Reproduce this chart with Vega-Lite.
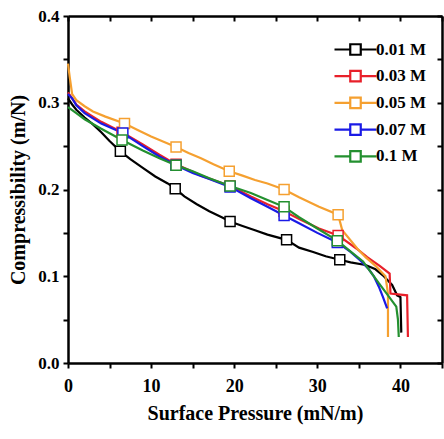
{
  "$schema": "https://vega.github.io/schema/vega-lite/v6.json",
  "autosize": "none",
  "width": 374,
  "height": 347,
  "padding": {"left": 68, "top": 16, "right": 2, "bottom": 76},
  "background": "white",
  "config": {
    "view": {"stroke": null},
    "font": "Liberation Serif",
    "axis": {
      "domainColor": "black", "domainWidth": 2.5,
      "tickColor": "black", "tickWidth": 2, "tickSize": 5,
      "labelFont": "Liberation Serif", "labelFontWeight": "bold", "labelFontSize": 17, "labelColor": "black",
      "titleFont": "Liberation Serif", "titleFontWeight": "bold", "titleFontSize": 20, "titleColor": "black",
      "grid": false
    }
  },
  "datasets": {
    "curves": [
      {"c": "0.01 M", "i": 1, "p": 0, "k": 0.305},
      {"c": "0.01 M", "i": 2, "p": 0.5, "k": 0.298},
      {"c": "0.01 M", "i": 3, "p": 1, "k": 0.292},
      {"c": "0.01 M", "i": 4, "p": 2, "k": 0.283},
      {"c": "0.01 M", "i": 5, "p": 3, "k": 0.275},
      {"c": "0.01 M", "i": 6, "p": 4, "k": 0.266},
      {"c": "0.01 M", "i": 7, "p": 5, "k": 0.256},
      {"c": "0.01 M", "i": 8, "p": 6.3, "k": 0.244},
      {"c": "0.01 M", "i": 9, "p": 7.5, "k": 0.235},
      {"c": "0.01 M", "i": 10, "p": 9, "k": 0.225},
      {"c": "0.01 M", "i": 11, "p": 10.5, "k": 0.215},
      {"c": "0.01 M", "i": 12, "p": 12, "k": 0.207},
      {"c": "0.01 M", "i": 13, "p": 12.9, "k": 0.201},
      {"c": "0.01 M", "i": 14, "p": 14, "k": 0.192},
      {"c": "0.01 M", "i": 15, "p": 15.5, "k": 0.183},
      {"c": "0.01 M", "i": 16, "p": 17, "k": 0.175},
      {"c": "0.01 M", "i": 17, "p": 18.5, "k": 0.168},
      {"c": "0.01 M", "i": 18, "p": 19.5, "k": 0.163},
      {"c": "0.01 M", "i": 19, "p": 21, "k": 0.158},
      {"c": "0.01 M", "i": 20, "p": 22.5, "k": 0.153},
      {"c": "0.01 M", "i": 21, "p": 24, "k": 0.148},
      {"c": "0.01 M", "i": 22, "p": 26.3, "k": 0.142},
      {"c": "0.01 M", "i": 23, "p": 27.8, "k": 0.133},
      {"c": "0.01 M", "i": 24, "p": 29.5, "k": 0.128},
      {"c": "0.01 M", "i": 25, "p": 31, "k": 0.123},
      {"c": "0.01 M", "i": 26, "p": 32.7, "k": 0.119},
      {"c": "0.01 M", "i": 27, "p": 34, "k": 0.116},
      {"c": "0.01 M", "i": 28, "p": 35.8, "k": 0.113},
      {"c": "0.01 M", "i": 29, "p": 37, "k": 0.108},
      {"c": "0.01 M", "i": 30, "p": 38, "k": 0.1},
      {"c": "0.01 M", "i": 31, "p": 39, "k": 0.09},
      {"c": "0.01 M", "i": 32, "p": 39.6, "k": 0.078},
      {"c": "0.01 M", "i": 33, "p": 40, "k": 0.076},
      {"c": "0.01 M", "i": 34, "p": 40.1, "k": 0.035},

      {"c": "0.03 M", "i": 1, "p": 0, "k": 0.312},
      {"c": "0.03 M", "i": 2, "p": 1, "k": 0.298},
      {"c": "0.03 M", "i": 3, "p": 2, "k": 0.29},
      {"c": "0.03 M", "i": 4, "p": 4, "k": 0.278},
      {"c": "0.03 M", "i": 5, "p": 6.5, "k": 0.266},
      {"c": "0.03 M", "i": 6, "p": 9, "k": 0.252},
      {"c": "0.03 M", "i": 7, "p": 11, "k": 0.24},
      {"c": "0.03 M", "i": 8, "p": 13, "k": 0.229},
      {"c": "0.03 M", "i": 9, "p": 16, "k": 0.216},
      {"c": "0.03 M", "i": 10, "p": 19.5, "k": 0.204},
      {"c": "0.03 M", "i": 11, "p": 22, "k": 0.192},
      {"c": "0.03 M", "i": 12, "p": 24, "k": 0.183},
      {"c": "0.03 M", "i": 13, "p": 26, "k": 0.175},
      {"c": "0.03 M", "i": 14, "p": 28, "k": 0.165},
      {"c": "0.03 M", "i": 15, "p": 30.2, "k": 0.155},
      {"c": "0.03 M", "i": 16, "p": 32.5, "k": 0.147},
      {"c": "0.03 M", "i": 17, "p": 34.7, "k": 0.132},
      {"c": "0.03 M", "i": 18, "p": 36, "k": 0.122},
      {"c": "0.03 M", "i": 19, "p": 37.5, "k": 0.112},
      {"c": "0.03 M", "i": 20, "p": 38.7, "k": 0.103},
      {"c": "0.03 M", "i": 21, "p": 38.8, "k": 0.08},
      {"c": "0.03 M", "i": 22, "p": 40.8, "k": 0.078},
      {"c": "0.03 M", "i": 23, "p": 40.9, "k": 0.03},

      {"c": "0.05 M", "i": 1, "p": 0, "k": 0.345},
      {"c": "0.05 M", "i": 2, "p": 0.2, "k": 0.33},
      {"c": "0.05 M", "i": 3, "p": 0.5, "k": 0.31},
      {"c": "0.05 M", "i": 4, "p": 1, "k": 0.303},
      {"c": "0.05 M", "i": 5, "p": 2, "k": 0.296},
      {"c": "0.05 M", "i": 6, "p": 3, "k": 0.29},
      {"c": "0.05 M", "i": 7, "p": 4.5, "k": 0.284},
      {"c": "0.05 M", "i": 8, "p": 6.8, "k": 0.276},
      {"c": "0.05 M", "i": 9, "p": 8.5, "k": 0.268},
      {"c": "0.05 M", "i": 10, "p": 10, "k": 0.261},
      {"c": "0.05 M", "i": 11, "p": 11.5, "k": 0.255},
      {"c": "0.05 M", "i": 12, "p": 13, "k": 0.249},
      {"c": "0.05 M", "i": 13, "p": 14.5, "k": 0.242},
      {"c": "0.05 M", "i": 14, "p": 16, "k": 0.236},
      {"c": "0.05 M", "i": 15, "p": 17.5, "k": 0.229},
      {"c": "0.05 M", "i": 16, "p": 19.4, "k": 0.221},
      {"c": "0.05 M", "i": 17, "p": 21, "k": 0.216},
      {"c": "0.05 M", "i": 18, "p": 22.5, "k": 0.211},
      {"c": "0.05 M", "i": 19, "p": 24, "k": 0.207},
      {"c": "0.05 M", "i": 20, "p": 26, "k": 0.2},
      {"c": "0.05 M", "i": 21, "p": 27.8, "k": 0.191},
      {"c": "0.05 M", "i": 22, "p": 30.2, "k": 0.18},
      {"c": "0.05 M", "i": 23, "p": 32.5, "k": 0.171},
      {"c": "0.05 M", "i": 24, "p": 33, "k": 0.153},
      {"c": "0.05 M", "i": 25, "p": 34.8, "k": 0.132},
      {"c": "0.05 M", "i": 26, "p": 35.8, "k": 0.122},
      {"c": "0.05 M", "i": 27, "p": 37, "k": 0.112},
      {"c": "0.05 M", "i": 28, "p": 38.2, "k": 0.1},
      {"c": "0.05 M", "i": 29, "p": 38.5, "k": 0.08},
      {"c": "0.05 M", "i": 30, "p": 38.5, "k": 0.03},

      {"c": "0.07 M", "i": 1, "p": 0, "k": 0.31},
      {"c": "0.07 M", "i": 2, "p": 0.5, "k": 0.305},
      {"c": "0.07 M", "i": 3, "p": 1, "k": 0.297},
      {"c": "0.07 M", "i": 4, "p": 2, "k": 0.288},
      {"c": "0.07 M", "i": 5, "p": 4, "k": 0.276},
      {"c": "0.07 M", "i": 6, "p": 6.6, "k": 0.265},
      {"c": "0.07 M", "i": 7, "p": 9, "k": 0.25},
      {"c": "0.07 M", "i": 8, "p": 11, "k": 0.238},
      {"c": "0.07 M", "i": 9, "p": 13, "k": 0.228},
      {"c": "0.07 M", "i": 10, "p": 15, "k": 0.219},
      {"c": "0.07 M", "i": 11, "p": 17, "k": 0.212},
      {"c": "0.07 M", "i": 12, "p": 19.5, "k": 0.203},
      {"c": "0.07 M", "i": 13, "p": 22, "k": 0.19},
      {"c": "0.07 M", "i": 14, "p": 24, "k": 0.18},
      {"c": "0.07 M", "i": 15, "p": 26, "k": 0.17},
      {"c": "0.07 M", "i": 16, "p": 27.8, "k": 0.161},
      {"c": "0.07 M", "i": 17, "p": 30, "k": 0.15},
      {"c": "0.07 M", "i": 18, "p": 32.4, "k": 0.139},
      {"c": "0.07 M", "i": 19, "p": 34, "k": 0.128},
      {"c": "0.07 M", "i": 20, "p": 35.2, "k": 0.118},
      {"c": "0.07 M", "i": 21, "p": 36.2, "k": 0.108},
      {"c": "0.07 M", "i": 22, "p": 36.8, "k": 0.1},
      {"c": "0.07 M", "i": 23, "p": 37.4, "k": 0.088},
      {"c": "0.07 M", "i": 24, "p": 37.9, "k": 0.076},
      {"c": "0.07 M", "i": 25, "p": 38.4, "k": 0.063},

      {"c": "0.1 M", "i": 1, "p": 0, "k": 0.295},
      {"c": "0.1 M", "i": 2, "p": 1, "k": 0.288},
      {"c": "0.1 M", "i": 3, "p": 2, "k": 0.281},
      {"c": "0.1 M", "i": 4, "p": 4, "k": 0.27},
      {"c": "0.1 M", "i": 5, "p": 6.5, "k": 0.257},
      {"c": "0.1 M", "i": 6, "p": 9, "k": 0.245},
      {"c": "0.1 M", "i": 7, "p": 11, "k": 0.236},
      {"c": "0.1 M", "i": 8, "p": 13, "k": 0.228},
      {"c": "0.1 M", "i": 9, "p": 15, "k": 0.221},
      {"c": "0.1 M", "i": 10, "p": 17, "k": 0.213},
      {"c": "0.1 M", "i": 11, "p": 19.5, "k": 0.204},
      {"c": "0.1 M", "i": 12, "p": 22, "k": 0.196},
      {"c": "0.1 M", "i": 13, "p": 24, "k": 0.188},
      {"c": "0.1 M", "i": 14, "p": 26, "k": 0.18},
      {"c": "0.1 M", "i": 15, "p": 27.8, "k": 0.168},
      {"c": "0.1 M", "i": 16, "p": 30, "k": 0.155},
      {"c": "0.1 M", "i": 17, "p": 32.4, "k": 0.141},
      {"c": "0.1 M", "i": 18, "p": 34.2, "k": 0.127},
      {"c": "0.1 M", "i": 19, "p": 35.5, "k": 0.117},
      {"c": "0.1 M", "i": 20, "p": 36.5, "k": 0.104},
      {"c": "0.1 M", "i": 21, "p": 37.4, "k": 0.092},
      {"c": "0.1 M", "i": 22, "p": 38.5, "k": 0.078},
      {"c": "0.1 M", "i": 23, "p": 39.5, "k": 0.065},
      {"c": "0.1 M", "i": 24, "p": 39.7, "k": 0.05},
      {"c": "0.1 M", "i": 25, "p": 39.8, "k": 0.03}
    ],
    "markers": [
      {"c": "0.01 M", "p": 6.3, "k": 0.244},
      {"c": "0.01 M", "p": 12.9, "k": 0.201},
      {"c": "0.01 M", "p": 19.5, "k": 0.163},
      {"c": "0.01 M", "p": 26.3, "k": 0.142},
      {"c": "0.01 M", "p": 32.7, "k": 0.119},
      {"c": "0.03 M", "p": 6.5, "k": 0.266},
      {"c": "0.03 M", "p": 13, "k": 0.229},
      {"c": "0.03 M", "p": 19.5, "k": 0.204},
      {"c": "0.03 M", "p": 26, "k": 0.175},
      {"c": "0.03 M", "p": 32.5, "k": 0.147},
      {"c": "0.05 M", "p": 6.8, "k": 0.276},
      {"c": "0.05 M", "p": 13, "k": 0.249},
      {"c": "0.05 M", "p": 19.4, "k": 0.221},
      {"c": "0.05 M", "p": 26, "k": 0.2},
      {"c": "0.05 M", "p": 32.5, "k": 0.171},
      {"c": "0.07 M", "p": 6.6, "k": 0.265},
      {"c": "0.07 M", "p": 13, "k": 0.228},
      {"c": "0.07 M", "p": 19.5, "k": 0.203},
      {"c": "0.07 M", "p": 26, "k": 0.17},
      {"c": "0.07 M", "p": 32.4, "k": 0.139},
      {"c": "0.1 M", "p": 6.5, "k": 0.257},
      {"c": "0.1 M", "p": 13, "k": 0.228},
      {"c": "0.1 M", "p": 19.5, "k": 0.204},
      {"c": "0.1 M", "p": 26, "k": 0.18},
      {"c": "0.1 M", "p": 32.4, "k": 0.141}
    ]
  },
  "layer": [
    {
      "data": {"name": "curves"},
      "mark": {"type": "line", "strokeWidth": 2.2, "interpolate": "linear"},
      "encoding": {
        "x": {"field": "p", "type": "quantitative",
              "scale": {"domain": [0, 45], "nice": false, "zero": false},
              "axis": {"orient": "bottom", "title": "Surface Pressure (mN/m)",
                       "values": [0, 5, 10, 15, 20, 25, 30, 35, 40, 45],
                       "labelExpr": "datum.value % 10 == 0 ? datum.label : ''",
                       "labelFontSize": 18, "labelPadding": 9, "titlePadding": 8, "labelFlush": false}},
        "y": {"field": "k", "type": "quantitative",
              "scale": {"domain": [0, 0.4], "nice": false},
              "axis": {"orient": "left", "title": "Compressibility (m/N)",
                       "values": [0, 0.05, 0.1, 0.15, 0.2, 0.25, 0.3, 0.35, 0.4],
                       "labelExpr": "round(datum.value * 100) % 10 == 0 ? format(datum.value, '.1f') : ''",
                       "labelPadding": 4, "titlePadding": 9, "labelFlush": false}},
        "color": {"field": "c", "type": "nominal",
                  "scale": {"domain": ["0.01 M", "0.03 M", "0.05 M", "0.07 M", "0.1 M"],
                            "range": ["#000000", "#e8202a", "#f5a030", "#1a1ae6", "#23902f"]},
                  "legend": {"orient": "none", "legendX": 275.5, "legendY": 21.5, "title": null, "padding": 0,
                             "symbolType": "M-2,0L-0.5,0M0.5,0L2,0M-0.5,-0.5L0.5,-0.5L0.5,0.5L-0.5,0.5Z",
                             "symbolSize": 441, "symbolStrokeWidth": 2.2, "symbolFillColor": "white",
                             "labelFont": "Liberation Serif", "labelFontWeight": "bold", "labelFontSize": 17,
                             "labelColor": "black", "labelOffset": 8.5, "rowPadding": 4.7}},
        "order": {"field": "i", "type": "quantitative"}
      }
    },
    {
      "data": {"name": "markers"},
      "mark": {"type": "square", "size": 100, "filled": true, "fill": "white", "strokeWidth": 1.5, "opacity": 1},
      "encoding": {
        "x": {"field": "p", "type": "quantitative",
              "axis": {"orient": "top", "title": null, "labels": false, "tickSize": -5,
                       "values": [0, 5, 10, 15, 20, 25, 30, 35, 40, 45]}},
        "y": {"field": "k", "type": "quantitative",
              "axis": {"orient": "right", "title": null, "labels": false, "tickSize": -5,
                       "values": [0, 0.05, 0.1, 0.15, 0.2, 0.25, 0.3, 0.35, 0.4]}},
        "stroke": {"field": "c", "type": "nominal",
                   "scale": {"domain": ["0.01 M", "0.03 M", "0.05 M", "0.07 M", "0.1 M"],
                             "range": ["#000000", "#e8202a", "#f5a030", "#1a1ae6", "#23902f"]},
                   "legend": null}
      }
    }
  ],
  "resolve": {"axis": {"x": "independent", "y": "independent"}}
}
